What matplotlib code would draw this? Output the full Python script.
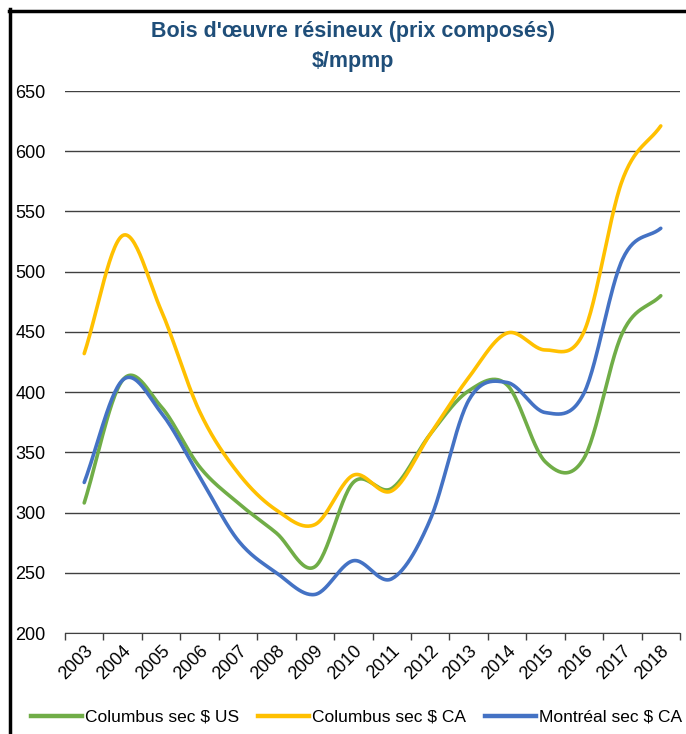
"""Bois d'oeuvre resineux - prix composes, courbes lissees."""

import numpy as np
import matplotlib.pyplot as plt
from matplotlib.lines import Line2D

plt.rcParams["font.family"] = ["Liberation Sans", "DejaVu Sans"]

YEARS = [str(y) for y in range(2003, 2019)]
COLUMBUS_US = [308, 410, 388, 338, 308, 283, 255, 325, 320, 365, 401, 406, 342, 345, 449, 480]
COLUMBUS_CA = [432, 530, 468, 384, 333, 302, 290, 331, 318, 365, 412, 449, 435, 450, 576, 621]
MONTREAL_CA = [325, 410, 383, 330, 277, 250, 232, 260, 245, 294, 393, 408, 383, 399, 510, 536]
SERIES_LABELS = ["Columbus sec $ US", "Columbus sec $ CA", "Montréal sec $ CA"]
SERIES_COLORS = ["#70AD47", "#FFC000", "#4472C4"]

TITLE_COLOR = "#1F4E79"


def smooth(xs, ys, n=30):
    """Bezier smoothing through the points (like Excel's smoothed line)."""
    xs = np.asarray(xs, float)
    ys = np.asarray(ys, float)
    px = np.concatenate([[2 * xs[0] - xs[1]], xs, [2 * xs[-1] - xs[-2]]])
    py = np.concatenate([[2 * ys[0] - ys[1]], ys, [2 * ys[-1] - ys[-2]]])
    out_x, out_y = [], []
    t = np.linspace(0, 1, n)
    for i in range(1, len(px) - 2):
        p0, p1, p2, p3 = py[i - 1], py[i], py[i + 1], py[i + 2]
        q0, q1, q2, q3 = px[i - 1], px[i], px[i + 1], px[i + 2]
        c1y, c2y = p1 + (p2 - p0) / 6, p2 - (p3 - p1) / 6
        c1x, c2x = q1 + (q2 - q0) / 6, q2 - (q3 - q1) / 6
        bx = (1 - t) ** 3 * q1 + 3 * (1 - t) ** 2 * t * c1x + 3 * (1 - t) * t ** 2 * c2x + t ** 3 * q2
        by = (1 - t) ** 3 * p1 + 3 * (1 - t) ** 2 * t * c1y + 3 * (1 - t) * t ** 2 * c2y + t ** 3 * p2
        out_x.extend(bx)
        out_y.extend(by)
    return np.array(out_x), np.array(out_y)


fig = plt.figure(figsize=(6.86, 7.34), dpi=100, facecolor="white")
ax = fig.add_axes([65 / 686, 1 - 633 / 734, (680 - 65) / 686, (633 - 91) / 734])

x = np.arange(len(YEARS))
for values, color in zip([COLUMBUS_US, COLUMBUS_CA, MONTREAL_CA], SERIES_COLORS):
    sx, sy = smooth(x, values)
    ax.plot(sx, sy, color=color, linewidth=2.6, solid_capstyle="round", zorder=3)

ax.set_xlim(-0.5, len(YEARS) - 0.5)
ax.set_ylim(200, 650)
ax.set_yticks(range(200, 651, 50))
ax.yaxis.grid(True, color="#404040", linewidth=1.0)
ax.set_axisbelow(True)

ax.set_xticks(x)
ax.set_xticklabels(YEARS, rotation=45, ha="right", rotation_mode="anchor", fontsize=13)
ax.tick_params(axis="x", length=0, pad=7)
ax.set_xticks(np.arange(-0.5, len(YEARS), 1), minor=True)
ax.tick_params(axis="x", which="minor", length=5, color="#404040", width=1)
ax.tick_params(axis="y", length=0, labelsize=13, pad=14)

for spine in ("top", "right", "left"):
    ax.spines[spine].set_visible(False)
ax.spines["bottom"].set_color("#404040")

fig.text(0.515, 1 - 32 / 734, "Bois d'œuvre résineux (prix composés)", ha="center", va="center",
         fontsize=15.5, fontweight="bold", color=TITLE_COLOR)
fig.text(0.515, 1 - 61 / 734, "$/mpmp", ha="center", va="center",
         fontsize=15.5, fontweight="bold", color=TITLE_COLOR)

handles = [Line2D([0], [0], color=c, linewidth=3.2) for c in SERIES_COLORS]
fig.legend(handles, SERIES_LABELS, loc="center", bbox_to_anchor=(0.52, 1 - 717 / 734), ncol=3,
           frameon=False, fontsize=12.5, handlelength=2.9, handletextpad=0.2, columnspacing=1.1)

# outer frame (left and top edges)
fig.add_artist(Line2D([9.5 / 686, 9.5 / 686], [0, 1 - 9 / 734], transform=fig.transFigure,
                      color="black", linewidth=2.5))
fig.add_artist(Line2D([8.5 / 686, 1], [1 - 10.5 / 734, 1 - 10.5 / 734], transform=fig.transFigure,
                      color="black", linewidth=2.5))

fig.savefig("out.png", dpi=100, facecolor="white")
